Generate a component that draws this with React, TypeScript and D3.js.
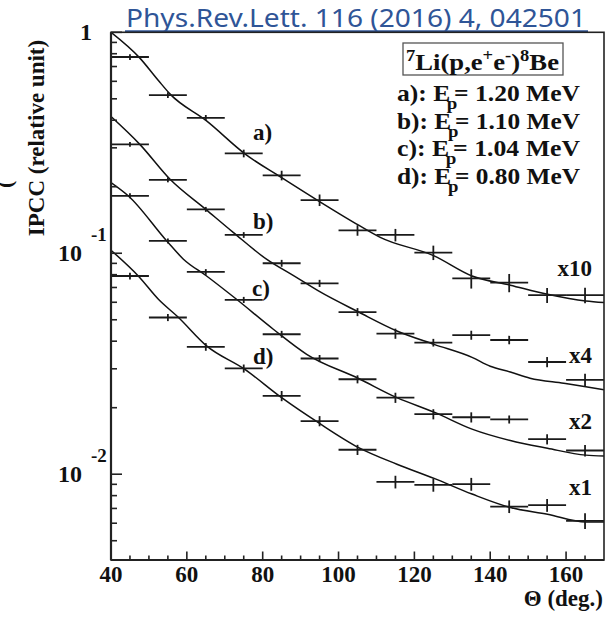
import React from 'react';
import * as d3 from 'd3';

// ---------- data ----------
const angles = [45, 55, 65, 75, 85, 95, 105, 115, 125, 135, 145, 155, 165];
const binHalfWidth = 5;

const dataA = [0.773, 0.52, 0.41, 0.283, 0.225, 0.174, 0.127, 0.121, 0.1007, 0.0769, 0.0736, 0.0646, 0.0646];
const dataB = [0.311, 0.215, 0.158, 0.121, 0.0901, 0.0731, 0.0542, 0.0433, 0.0394, 0.0426, 0.0405, 0.0322, 0.0267];
const dataC = [0.182, 0.1137, 0.0823, 0.0615, 0.043, 0.0334, 0.0269, 0.0222, 0.0187, 0.0181, 0.0177, 0.0144, 0.0128];
const dataD = [0.0789, 0.0512, 0.0377, 0.0301, 0.0226, 0.0174, 0.0129, 0.00923, 0.00895, 0.00902, 0.00714, 0.00724, 0.00615];

const errA = [0.03, 0.03, 0.03, 0.04, 0.05, 0.06, 0.055, 0.065, 0.075, 0.1, 0.095, 0.078, 0.08];
const errB = [0.025, 0.026, 0.026, 0.03, 0.036, 0.037, 0.042, 0.053, 0.04, 0.047, 0.044, 0.053, 0.067];
const errC = [0.026, 0.026, 0.03, 0.032, 0.036, 0.037, 0.042, 0.053, 0.053, 0.053, 0.042, 0.053, 0.06];
const errD = [0.035, 0.037, 0.04, 0.042, 0.053, 0.053, 0.053, 0.066, 0.069, 0.067, 0.066, 0.067, 0.082];

const curveAThetas = [40, 47.5, 52.5, 55.6, 65.2, 75.4, 85, 95.1, 105.3, 111, 125.2, 135.2, 145.3, 155.1, 165.2, 170];
const curveAValues = [1.0, 0.768, 0.605, 0.525, 0.397, 0.281, 0.22, 0.171, 0.134, 0.118, 0.0973, 0.0789, 0.0717, 0.0652, 0.0608, 0.0598];
const curveBThetas = [40, 47.6, 55.7, 65, 72.3, 81, 89, 94.7, 105.3, 115.4, 125.2, 135.2, 140, 145.3, 150.5, 159.4, 165.2, 170];
const curveBValues = [0.4155, 0.311, 0.215, 0.158, 0.124, 0.094, 0.0776, 0.0675, 0.0542, 0.0445, 0.0387, 0.0338, 0.0308, 0.029, 0.0272, 0.0258, 0.0249, 0.0241];
const curveCThetas = [40, 44.6, 54.7, 59.1, 65.2, 73.1, 82.8, 91.6, 105.3, 115.4, 125.2, 135.2, 145.3, 155.1, 165.2, 170];
const curveCValues = [0.209, 0.1817, 0.1137, 0.094, 0.0789, 0.0619, 0.0453, 0.0349, 0.0271, 0.0222, 0.0191, 0.016, 0.0142, 0.0131, 0.0122, 0.0121];
const curveDThetas = [40, 47.2, 52.5, 57.8, 65.2, 75.2, 85, 94.7, 105.3, 115.4, 125.2, 135.2, 145.3, 155.1, 165.2, 170];
const curveDValues = [0.1032, 0.0789, 0.0619, 0.0512, 0.0381, 0.0299, 0.0222, 0.0171, 0.0132, 0.0111, 0.00957, 0.00813, 0.00707, 0.00659, 0.00608, 0.00608];

const curveLabels = ['a)', 'b)', 'c)', 'd)'];
const scaleLabels = ['x10', 'x4', 'x2', 'x1'];
const legendTags = ['a):', 'b):', 'c):', 'd):'];
const legendEnergies = ['1.20', '1.10', '1.04', '0.80'];
const xTickLabels = [40, 60, 80, 100, 120, 140, 160];
const titleText = 'Phys.Rev.Lett. 116 (2016) 4, 042501';

const SERIF = '"Liberation Serif", "Times New Roman", serif';

export default function App() {
  const W = 613, H = 617;
  const left = 111, right = 604, top = 32.3, bottom = 560;
  const x = d3.scaleLinear().domain([40, 170]).range([left, right]);
  const y = d3.scaleLog().domain([0.00409, 1]).range([bottom, top]);

  const series = [
    { vals: dataA, errs: errA, ct: curveAThetas, cv: curveAValues },
    { vals: dataB, errs: errB, ct: curveBThetas, cv: curveBValues },
    { vals: dataC, errs: errC, ct: curveCThetas, cv: curveCValues },
    { vals: dataD, errs: errD, ct: curveDThetas, cv: curveDValues },
  ];

  const line = d3.line<[number, number]>()
    .x(d => x(d[0]))
    .y(d => y(d[1]))
    .curve(d3.curveMonotoneX);

  const yTicks: { v: number; major: boolean }[] = [];
  for (let e = -3; e <= 0; e++) {
    for (let m = 1; m <= 9; m++) {
      const v = m * Math.pow(10, e);
      if (v >= 0.00409 && v <= 1.0001) yTicks.push({ v, major: m === 1 });
    }
  }
  const xTicks = d3.range(45, 170, 5);

  const curveLabelPos = [[253, 140], [253, 229], [252, 296], [253, 364]];
  const scaleLabelPos = [[592, 276], [592, 363], [592, 429], [592, 495]];

  return (
    <svg width={W} height={H} style={{ position: 'absolute', left: 0, top: 0, background: '#fff' }}
      fontFamily={SERIF} fontWeight="bold">
      <defs>
        <clipPath id="frame">
          <rect x={left} y={top} width={right - left} height={bottom - top} />
        </clipPath>
      </defs>
      <rect width={W} height={H} fill="#fff" />

      {/* title */}
      <text x={126} y={27} fontFamily='"Noto Sans", "Open Sans", sans-serif' fontWeight="normal"
        fontSize={25} fill="#2F5597" textLength={460} lengthAdjust="spacingAndGlyphs">{titleText}</text>
      <line x1={125} x2={588} y1={31.3} y2={31.3} stroke="#2F5597" strokeWidth={2} />

      {/* curves */}
      <g clipPath="url(#frame)">
        {series.map((s, i) => (
          <path key={i} d={line(s.ct.map((t, j) => [t, s.cv[j]] as [number, number])) || ''}
            fill="none" stroke="#111" strokeWidth={1.5} />
        ))}
      </g>

      {/* data points */}
      <g stroke="#1a1a1a" strokeWidth={1.8}>
        {series.map((s, i) => (
          <g key={i}>
            {angles.map((a, j) => (
              <g key={j}>
                <line x1={x(a - binHalfWidth)} x2={x(a + binHalfWidth)} y1={y(s.vals[j])} y2={y(s.vals[j])} />
                <line x1={x(a)} x2={x(a)} y1={y(s.vals[j] * (1 + s.errs[j]))} y2={y(s.vals[j] * (1 - s.errs[j]))} />
              </g>
            ))}
          </g>
        ))}
      </g>

      {/* frame */}
      <rect x={left} y={top} width={right - left} height={bottom - top} fill="none" stroke="#222" strokeWidth={1.6} />
      <line x1={left} x2={left} y1={top} y2={bottom} stroke="#222" strokeWidth={2.2} />
      <line x1={left} x2={right} y1={bottom} y2={bottom} stroke="#222" strokeWidth={2.2} />

      {/* y ticks */}
      <g stroke="#222" strokeWidth={1.6}>
        {yTicks.map((t, i) => (
          <line key={i} x1={left} x2={left + (t.major ? 11 : 6)} y1={y(t.v)} y2={y(t.v)} />
        ))}
      </g>
      {/* x ticks */}
      <g stroke="#222" strokeWidth={1.6}>
        {xTicks.map((t, i) => (
          <line key={i} x1={x(t)} x2={x(t)} y1={bottom} y2={bottom - (t % 20 === 0 ? 8.5 : 4.5)} />
        ))}
      </g>

      {/* y tick labels */}
      <text x={86} y={y(1) + 8} fontSize={24} textAnchor="middle" fill="#111">1</text>
      {[0.1, 0.01].map((v, i) => (
        <g key={i}>
          <text x={82} y={y(v) + 8} fontSize={24} textAnchor="end" fill="#111">10</text>
          <text x={91} y={y(v) - 12} fontSize={19} textAnchor="start" fill="#111">{i === 0 ? '-1' : '-2'}</text>
        </g>
      ))}

      {/* x tick labels */}
      {xTickLabels.map((t, i) => (
        <text key={i} x={x(t)} y={582} fontSize={23} textAnchor="middle" fill="#111">{t}</text>
      ))}
      <text x={603} y={606} fontSize={23} textAnchor="end" fill="#111">Θ (deg.)</text>

      {/* y title */}
      <text transform="translate(44,138) rotate(-90)" fontSize={23} textAnchor="middle" fill="#111">IPCC (relative unit)</text>
      <text transform="translate(12,188) rotate(-90)" fontSize={22} textAnchor="start" fill="#111">(</text>

      {/* curve labels */}
      {curveLabels.map((l, i) => (
        <text key={i} x={curveLabelPos[i][0]} y={curveLabelPos[i][1]} fontSize={23} fill="#111">{l}</text>
      ))}
      {scaleLabels.map((l, i) => (
        <text key={i} x={scaleLabelPos[i][0]} y={scaleLabelPos[i][1]} fontSize={23} textAnchor="end" fill="#111">{l}</text>
      ))}

      {/* legend */}
      <rect x={403} y={43} width={160} height={32} fill="#fff" stroke="#555" strokeWidth={1.3} />
      <text x={406} y={69.5} fontSize={23} fill="#111" textLength={153} lengthAdjust="spacingAndGlyphs">
        <tspan fontSize={16} dy={-9}>7</tspan>
        <tspan fontSize={23} dy={9}>Li(p,e</tspan>
        <tspan fontSize={16} dy={-9}>+</tspan>
        <tspan fontSize={23} dy={9}>e</tspan>
        <tspan fontSize={16} dy={-9}>-</tspan>
        <tspan fontSize={23} dy={9}>)</tspan>
        <tspan fontSize={16} dy={-9}>8</tspan>
        <tspan fontSize={23} dy={9}>Be</tspan>
      </text>
      {legendTags.map((tag, i) => (
        <text key={i} x={397} y={101 + i * 27.5} fontSize={23} fill="#111" textLength={183} lengthAdjust="spacingAndGlyphs">
          {tag} E
          <tspan fontSize={17} dy={8} dx={-3}>p</tspan>
          <tspan fontSize={23} dy={-8} dx={-3}>{`= ${legendEnergies[i]} MeV`}</tspan>
        </text>
      ))}
    </svg>
  );
}
